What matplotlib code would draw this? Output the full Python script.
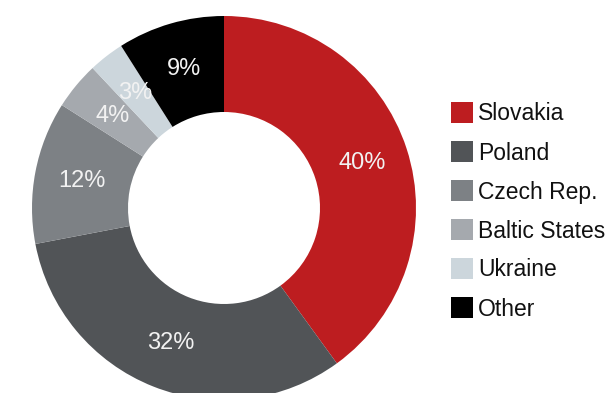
import matplotlib.pyplot as plt
from matplotlib.patches import Rectangle

# Share of exposure by country (%)
countries = ['Slovakia', 'Poland', 'Czech Rep.', 'Baltic States', 'Ukraine', 'Other']
shares = [40, 32, 12, 4, 3, 9]
colors = ['#BD1D20', '#515457', '#7D8185', '#A5A9AE', '#CCD6DC', '#000000']

plt.rcParams['font.family'] = ['Liberation Sans', 'DejaVu Sans']

W, H = 613, 393
fig = plt.figure(figsize=(W / 100, H / 100), dpi=100)
ax = fig.add_axes([0, 0, 1, 1])

# donut, in pixel coordinates (y measured from bottom)
cx, cy, R = 224, H - 208, 192
ax.pie(shares, colors=colors, startangle=90, counterclock=False,
       center=(cx, cy), radius=R,
       wedgeprops=dict(width=R / 2, linewidth=0),
       labels=[f'{s}%' for s in shares], labeldistance=0.755,
       textprops=dict(color='#F2F2F2', fontsize=17, ha='center', va='center'))

# legend drawn by hand
for i, (name, col) in enumerate(zip(countries, colors)):
    yc = H - (112.5 + i * 39)
    ax.add_patch(Rectangle((451, yc - 10.5), 22, 21, facecolor=col, edgecolor='none'))
    ax.text(478, yc - 1.5, name, fontsize=16.5, color='#111111', ha='left', va='center')

ax.set_xlim(0, W)
ax.set_ylim(0, H)
ax.set_aspect('auto')
ax.axis('off')

fig.savefig('out.png', dpi=100)
